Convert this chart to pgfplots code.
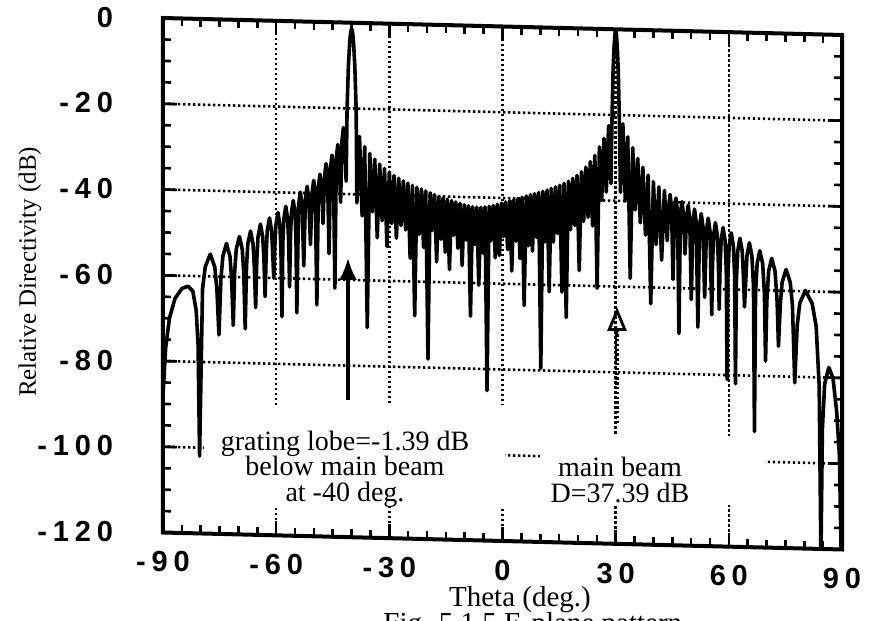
\documentclass[border=0pt]{standalone}
\usepackage{fontspec}
\setmainfont{Liberation Serif}
\newfontfamily\tickfont[LetterSpace=20]{Liberation Sans}
\usepackage{pgfplots}
\pgfplotsset{compat=1.18}
\usetikzlibrary{arrows.meta}
\begin{document}
\begin{tikzpicture}
\useasboundingbox (0,0) rectangle (437pt,310.5pt);
\begin{axis}[
  x={(1.88611pt,-0.047153pt)}, y={(0pt,2.14375pt)},
  at={(251.25pt,297.25pt)}, anchor=origin,
  xmin=-90, xmax=90, ymin=-120, ymax=0,
  xtick={-90,-60,-30,0,30,60,90},
  xticklabels={-90,-60,-30,0,30,60,90},
  ytick={-120,-100,-80,-60,-40,-20,0},
  yticklabels={-120,-100,-80,-60,-40,-20,0},
  minor xtick={-85,-80,...,85},
  minor ytick={-115,-110,...,-5},
  xtick pos=both, ytick pos=both,
  tick align=inside,
  major tick length=7pt, minor tick length=4pt,
  every tick/.style={black, line width=1.3pt},
  grid=major,
  major grid style={black, line width=1.3pt, dash pattern=on 1.2pt off 1.3pt},
  axis line style={line width=2pt},
  axis on top,
  ticklabel style={font=\tickfont\bfseries\fontsize{14.5}{15}\selectfont},
  xticklabel style={yshift=-6pt},
  yticklabel style={xshift=-21.5pt},
]
\addplot[black, line width=1.8pt, line join=round] coordinates {
(-90,-88) (-89.3,-77) (-88.3,-70) (-86.8,-65.3) (-85,-63) (-83.4,-62.4) (-82.1,-63.5) (-81.2,-68) (-80.7,-76) (-80.30,-102)
(-79.52,-63) (-78.80,-57.8) (-77.47,-54.8) (-76.27,-57.8) (-75.71,-63) (-75.17,-73.6)
(-74.64,-60.5) (-74.13,-55.2) (-73.16,-52.2) (-72.25,-55.2) (-71.81,-60.5) (-71.37,-71.3)
(-71.0,-58.8) (-70.58,-53.5) (-69.73,-50.5) (-68.99,-53.5) (-68.6,-58.8) (-68.21,-72)
(-67.86,-57.5) (-67.52,-52.2) (-66.79,-49.2) (-66.13,-52.2) (-65.79,-57.5) (-65.44,-67)
(-65.13,-55.8) (-64.81,-50.5) (-64.16,-47.5) (-63.56,-50.5) (-63.24,-55.8) (-62.93,-64.4)
(-62.64,-54.3) (-62.36,-49) (-61.76,-46) (-61.21,-49) (-60.92,-54.3) (-60.63,-60)
(-60.36,-53) (-60.09,-47.7) (-59.53,-44.7) (-59.01,-47.7) (-58.74,-53) (-58.47,-69)
(-58.22,-51.5) (-57.96,-46.2) (-57.44,-43.2) (-56.95,-46.2) (-56.69,-51.5) (-56.44,-62)
(-56.2,-50.1) (-55.96,-44.8) (-55.47,-41.8) (-55.0,-44.8) (-54.76,-50.1) (-54.52,-68)
(-54.06,-42.8) (-53.59,-39.8) (-53.14,-42.8) (-52.68,-57)
(-52.24,-41.4) (-51.79,-38.4) (-51.35,-41.4) (-50.91,-52)
(-50.49,-40) (-50.05,-37) (-49.64,-40) (-49.21,-66)
(-48.80,-38.5) (-48.39,-35.5) (-47.98,-38.5) (-47.57,-47)
(-47.17,-36) (-46.77,-33) (-46.38,-36) (-45.98,-54)
(-45.59,-34) (-45.20,-31) (-44.82,-34) (-44.43,-62)
(-44.05,-31.5) (-43.67,-28.5) (-43.30,-31.5) (-42.92,-42)
(-42.55,-27.5) (-42.18,-24.5) (-41.82,-27.5) (-41.45,-37)
(-41.2,-20) (-40.85,-10) (-40.5,-4.5) (-40.25,-2.2) (-40,-1.39) (-39.75,-2.2) (-39.5,-4.5) (-39.15,-10) (-38.8,-20) (-38.60,-42)
(-37.90,-26.5) (-37.21,-45)
(-36.53,-28.8) (-35.85,-71)
(-35.18,-30.4) (-34.52,-44)
(-33.86,-31.7) (-33.20,-50)
(-32.56,-32.8) (-31.91,-46)
(-31.27,-33.8) (-30.63,-52)
(-30.00,-34.6) (-29.37,-46.6)
(-28.75,-35.4) (-28.13,-50)
(-27.51,-36) (-26.90,-47)
(-26.29,-36.6) (-25.68,-48)
(-25.08,-37.1) (-24.48,-54.6)
(-23.88,-37.6) (-23.28,-68)
(-22.69,-38) (-22.10,-49)
(-21.51,-38.4) (-20.92,-52)
(-20.34,-38.8) (-19.76,-78)
(-19.18,-39.2) (-18.61,-48)
(-18.03,-39.6) (-17.46,-55.3)
(-16.89,-40) (-16.32,-50)
(-15.75,-40.3) (-15.18,-53)
(-14.62,-40.6) (-14.06,-57)
(-13.49,-40.9) (-12.93,-49)
(-12.37,-41.2) (-11.82,-52)
(-11.26,-41.5) (-10.70,-56)
(-10.15,-41.8) (-9.59,-50)
(-9.04,-42) (-8.49,-67.8)
(-7.94,-42.2) (-7.39,-51)
(-6.84,-42.3) (-6.29,-60.5)
(-5.74,-42.3) (-5.19,-53)
(-4.64,-42.2) (-4.10,-85)
(-3.55,-42) (-3.00,-50)
(-2.46,-41.8) (-1.91,-54)
(-1.36,-41.5) (-0.82,-53.4)
(-0.27,-41.2) (0.27,-49)
(0.82,-40.9) (1.36,-52)
(1.91,-40.6) (2.46,-57)
(3.00,-40.3) (3.55,-50)
(4.10,-40) (4.64,-54)
(5.19,-39.7) (5.74,-65)
(6.29,-39.4) (6.84,-51)
(7.39,-39.1) (7.94,-52.2)
(8.49,-38.8) (9.04,-49)
(9.59,-38.5) (10.15,-79.5)
(10.70,-38.2) (11.26,-50)
(11.82,-37.9) (12.37,-61.6)
(12.93,-37.5) (13.49,-50)
(14.06,-37.1) (14.62,-48)
(15.18,-36.7) (15.75,-61.6)
(16.32,-36.2) (16.89,-67.5)
(17.46,-35.7) (18.03,-47)
(18.61,-35) (19.18,-46)
(19.76,-34.3) (20.34,-56.5)
(20.92,-33.4) (21.51,-45)
(22.10,-32.3) (22.69,-44)
(23.28,-31) (23.88,-46)
(24.48,-29.5) (25.08,-60.5)
(25.68,-27.5) (26.29,-40)
(26.90,-25.5) (27.51,-38)
(28.13,-22.5) (28.75,-36)
(29.05,-20) (29.3,-10) (29.55,-4.5) (29.8,-1.2) (30,0) (30.2,-1.2) (30.45,-4.5) (30.7,-10) (30.95,-20) (31.27,-38)
(31.91,-22) (32.56,-40)
(33.20,-25) (33.86,-58)
(34.52,-27.5) (35.18,-42)
(35.85,-30) (36.53,-45)
(37.21,-32) (37.90,-47.8)
(38.60,-33.8) (39.30,-63.8)
(40.00,-35.3) (40.72,-50)
(41.45,-36.5) (42.18,-53.6)
(42.92,-37.3) (43.67,-49)
(44.05,-41.2) (44.43,-38.2) (44.81,-41.2) (45.20,-58)
(45.59,-42) (45.98,-39) (46.38,-42) (46.77,-70.6)
(47.17,-42.8) (47.57,-39.8) (47.98,-42.8) (48.39,-52)
(48.80,-43.6) (49.21,-40.6) (49.63,-43.6) (50.05,-62.6)
(50.48,-44.5) (50.91,-41.5) (51.35,-44.5) (51.79,-69)
(52.24,-45.5) (52.68,-42.5) (53.14,-45.5) (53.59,-62)
(54.06,-46.5) (54.52,-43.5) (55.0,-46.5) (55.47,-66)
(55.67,-54.5) (55.96,-47.5) (56.44,-44.5) (56.95,-47.5) (57.24,-54.5) (57.44,-64.7)
(57.65,-55.6) (57.96,-48.6) (58.47,-45.6) (59.0,-48.6) (59.32,-55.6) (59.53,-81)
(59.75,-56.8) (60.09,-49.8) (60.63,-46.8) (61.2,-49.8) (61.54,-56.8) (61.76,-82)
(62.0,-58) (62.36,-51) (62.93,-48) (63.55,-51) (63.92,-58) (64.16,-64)
(64.42,-59) (64.81,-52) (65.44,-49) (66.11,-52) (66.53,-59) (66.79,-93)
(67.08,-60.8) (67.50,-53.8) (68.21,-50.8) (68.97,-53.8) (69.43,-60.8) (69.73,-76.5)
(70.07,-62.5) (70.55,-55.5) (71.37,-52.5) (72.25,-55.5) (72.80,-62.5) (73.16,-73)
(73.64,-63.3) (74.13,-58) (75.17,-55) (76.27,-58) (76.86,-63.3) (77.47,-81.4)
(78.12,-68.1) (78.80,-62.8) (80.30,-59.8) (82.09,-62.8) (83.15,-68.1) (83.95,-82) (84.41,-122)
(84.8,-92) (85.4,-81.5) (86.5,-77.6) (87.6,-80) (88.6,-88) (89.3,-98) (89.8,-122)
};
\end{axis}
% clear areas behind the notes
\fill[white] (102pt,57pt) rectangle (252.5pt,108pt);
\fill[white] (270pt,58pt) rectangle (382.5pt,92.5pt);
% notes
\node[align=center, font=\fontsize{14}{12.8}\selectfont, inner sep=0pt] at (172.5pt,76pt) {grating lobe=-1.39 dB\\below main beam\\at -40 deg.};
\node[align=center, font=\fontsize{14}{12.8}\selectfont, inner sep=0pt] at (310pt,70.5pt) {main beam\\D=37.39 dB};
\node[font=\fontsize{14.5}{14}\selectfont, inner sep=0pt] at (260pt,10.5pt) {Theta (deg.)};
\node[anchor=base west, font=\fontsize{14.5}{14}\selectfont, inner sep=0pt] at (191.5pt,-6pt) {Fig. 5.1.5 E-plane pattern};
\node[rotate=90, font=\fontsize{12.5}{14}\selectfont, inner sep=0pt] at (15pt,174.5pt) {Relative Directivity (dB)};
% arrows
\draw[line width=1.6pt, -{Latex[length=11pt,width=9pt]}] (174pt,110.5pt) -- (174pt,181.5pt);
\draw[line width=1.6pt, dash pattern=on 1.2pt off 1.2pt] (308.5pt,99pt) -- (308.5pt,145pt);
\draw[line width=1.4pt, -{Triangle[open,length=12pt,width=9.5pt]}] (308.5pt,143pt) -- (308.5pt,157pt);
\end{tikzpicture}
\end{document}
